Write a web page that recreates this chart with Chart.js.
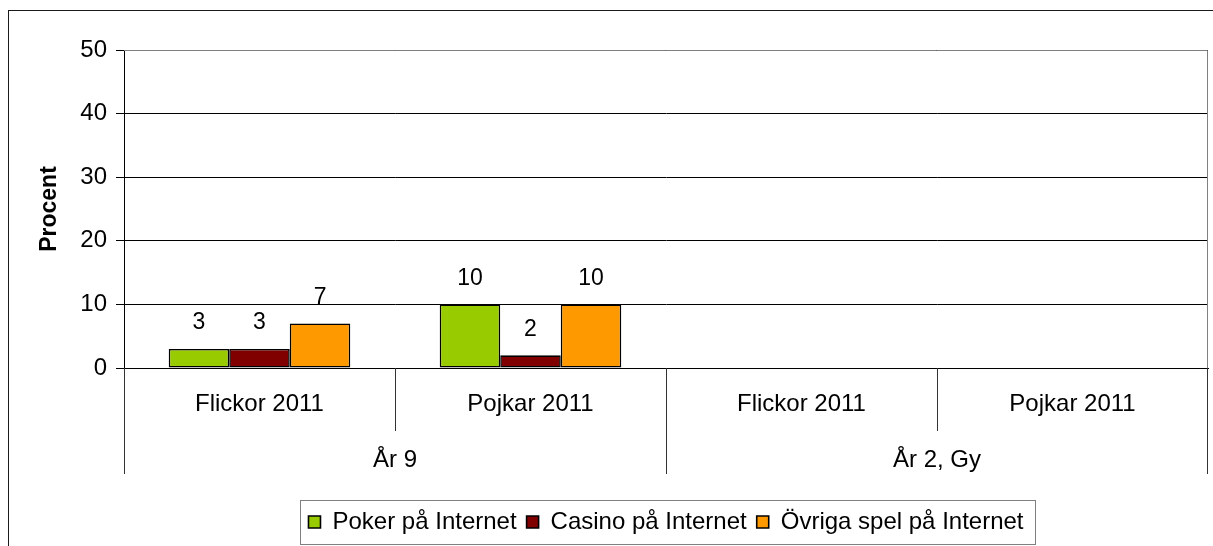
<!DOCTYPE html>
<html lang="sv">
<head>
<meta charset="UTF-8">
<title>Spel på Internet</title>
<style>
  body { margin: 0; background: #fff; overflow: hidden; }
</style>
<script src="https://cdn.jsdelivr.net/npm/chart.js"></script>
</head>
<body>
<canvas id="myChart" width="1213" height="546"></canvas>
<script>
// data
const categories = ['Flickor 2011', 'Pojkar 2011', 'Flickor 2011', 'Pojkar 2011'];
const groups = ['År 9', 'År 2, Gy'];
const seriesNames = ['Poker på Internet', 'Casino på Internet', 'Övriga spel på Internet'];
const poker = [3, 10, null, null];
const casino = [3, 2, null, null];
const ovriga = [7, 10, null, null];
const yTicks = [0, 10, 20, 30, 40, 50];

const FONT = "'Liberation Sans', Arial, sans-serif";

// white background, outer frame and the grey plot border
const framePlugin = {
  id: 'frame',
  beforeDraw(chart) {
    const ctx = chart.ctx;
    ctx.save();
    ctx.fillStyle = '#fff';
    ctx.fillRect(0, 0, chart.width, chart.height);
    ctx.strokeStyle = '#1a1a1a';
    ctx.lineWidth = 1;
    ctx.strokeRect(8.5, 10.5, chart.width + 20, chart.height + 20);
    ctx.restore();
  },
  beforeDatasetsDraw(chart) {
    const a = chart.chartArea, ctx = chart.ctx;
    ctx.save();
    ctx.strokeStyle = '#808080';
    ctx.lineWidth = 1;
    ctx.beginPath();
    ctx.moveTo(a.left, a.top + 0.5);
    ctx.lineTo(a.right - 0.5, a.top + 0.5);
    ctx.lineTo(a.right - 0.5, a.bottom);
    ctx.stroke();
    ctx.restore();
  }
};

// separator lines between categories / groups below the axis
const separatorPlugin = {
  id: 'separators',
  afterDraw(chart) {
    const x = chart.scales.x, x2 = chart.scales.x2, ctx = chart.ctx;
    ctx.save();
    ctx.strokeStyle = '#333';
    ctx.lineWidth = 1;
    for (let i = 0; i <= categories.length; i++) {
      let px = Math.round(x.getPixelForValue(i - 0.5)) + 0.5;
      if (i === categories.length) px -= 1;
      const end = (i % 2 === 0) ? x2.top + 56 : x.top + 63;
      ctx.beginPath();
      ctx.moveTo(px, x.top);
      ctx.lineTo(px, end);
      ctx.stroke();
    }
    ctx.restore();
  }
};

// value labels above the bars
const valueLabels = {
  id: 'valueLabels',
  afterDatasetsDraw(chart) {
    const ctx = chart.ctx;
    ctx.save();
    ctx.font = '23px ' + FONT;
    ctx.fillStyle = '#000';
    ctx.textAlign = 'center';
    ctx.textBaseline = 'middle';
    chart.data.datasets.forEach((ds, di) => {
      chart.getDatasetMeta(di).data.forEach((bar, i) => {
        if (ds.data[i] == null) return;
        ctx.fillText(ds.data[i], bar.x, bar.y - 26);
      });
    });
    ctx.restore();
  }
};

// grey box round the legend
const legendBox = {
  id: 'legendBox',
  afterDraw(chart) {
    const lg = chart.legend;
    if (!lg || !lg.legendHitBoxes.length) return;
    const hb = lg.legendHitBoxes;
    const left = hb[0].left - 8;
    const right = hb[hb.length - 1].left + hb[hb.length - 1].width + 12;
    const ctx = chart.ctx;
    ctx.save();
    ctx.strokeStyle = '#808080';
    ctx.lineWidth = 1;
    ctx.strokeRect(Math.round(left) + 0.5, lg.top + 0.5, Math.round(right - left), 44);
    ctx.restore();
  }
};

const ctx = document.getElementById('myChart').getContext('2d');
new Chart(ctx, {
  type: 'bar',
  data: {
    labels: categories,
    datasets: [
      { label: seriesNames[0], data: poker, backgroundColor: '#99cc00' },
      { label: seriesNames[1], data: casino, backgroundColor: '#800000' },
      { label: seriesNames[2], data: ovriga, backgroundColor: '#ff9900' }
    ].map(d => Object.assign(d, {
      xAxisID: 'x',
      borderColor: '#000',
      borderWidth: 1.6,
      borderSkipped: false,
      categoryPercentage: 0.67,
      barPercentage: 1.0
    }))
  },
  options: {
    responsive: false,
    animation: false,
    layout: { padding: { top: 50, right: 5, bottom: 2, left: 0 } },
    scales: {
      y: {
        min: 0,
        max: 50,
        afterBuildTicks: s => { s.ticks = yTicks.map(v => ({ value: v })); },
        afterFit: s => { s.width = 124; },
        ticks: { font: { family: FONT, size: 24 }, color: '#000', padding: 9 },
        grid: { color: '#000', lineWidth: 1, tickLength: 8 },
        border: { display: true, color: '#000' },
        title: {
          display: true,
          text: 'Procent',
          color: '#000',
          font: { family: FONT, size: 23, weight: 'bold' },
          padding: { top: 36, bottom: 0 }
        }
      },
      x: {
        offset: true,
        afterFit: s => { s.height = 50; },
        ticks: { font: { family: FONT, size: 24 }, color: '#000', padding: 22 },
        grid: { display: false, drawTicks: false },
        border: { display: true, color: '#000' }
      },
      x2: {
        type: 'category',
        position: 'bottom',
        labels: groups,
        offset: true,
        afterFit: s => { s.height = 82; },
        ticks: { font: { family: FONT, size: 24 }, color: '#000', padding: 28 },
        grid: { display: false, drawTicks: false },
        border: { display: false }
      }
    },
    plugins: {
      legend: {
        position: 'bottom',
        fullSize: false,
        labels: {
          font: { family: FONT, size: 24 },
          color: '#000',
          boxWidth: 12,
          boxHeight: 12,
          padding: 10
        }
      },
      tooltip: { enabled: false }
    }
  },
  plugins: [framePlugin, separatorPlugin, valueLabels, legendBox]
});
</script>
</body>
</html>
